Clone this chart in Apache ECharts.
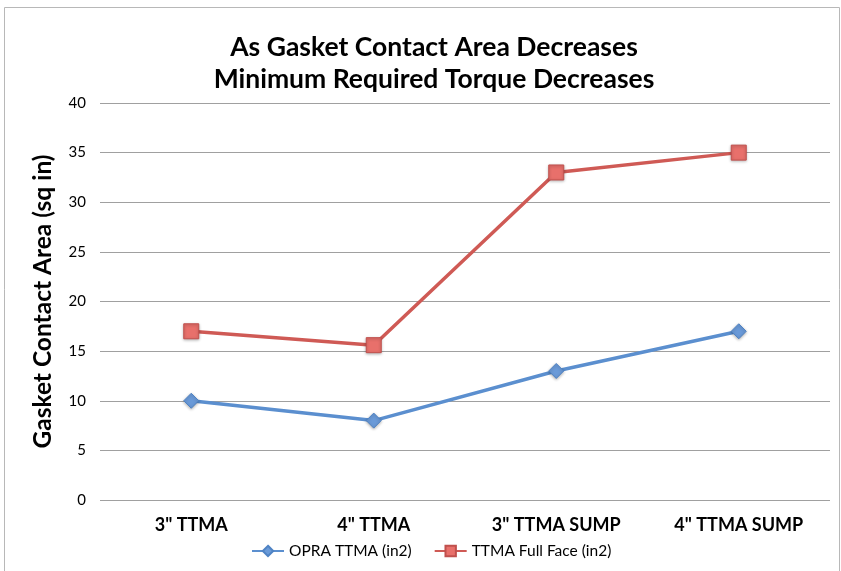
<!DOCTYPE html>
<html><head><meta charset="utf-8">
<script src="https://cdn.jsdelivr.net/npm/echarts@6/dist/echarts.min.js"></script>
<style>html,body{margin:0;padding:0;background:#fff}#c{width:841px;height:571px}</style>
</head><body><div id="c"></div>
<script>
const categories = ['3" TTMA', '4" TTMA', '3" TTMA SUMP', '4" TTMA SUMP'];
const opraValues = [10, 8, 13, 17];
const fullFaceValues = [17, 15.6, 33, 35];
const seriesNames = ['OPRA TTMA (in2)', 'TTMA Full Face (in2)'];
const FONT = 'Lato, "Open Sans", sans-serif';
const chart = echarts.init(document.getElementById('c'));
chart.setOption({
  animation: false,
  backgroundColor: '#fff',
  graphic: [{type:'rect', shape:{x:4.5,y:7.5,width:835,height:580}, style:{fill:'none', stroke:'#b8b8b8', lineWidth:1}, silent:true}],
  title: {
    text: 'As Gasket Contact Area Decreases\nMinimum Required Torque Decreases',
    left: 429, textAlign: 'center', top: 26,
    textStyle: {fontFamily: FONT, fontWeight: 'bold', fontSize: 26.5, lineHeight: 32, color: '#000'}
  },
  legend: {
    bottom: 7, left: 246, itemWidth: 32, itemHeight: 13, itemGap: 22, itemStyle: {shadowBlur: 0},
    textStyle: {fontFamily: FONT, fontSize: 15.5, color: '#000'},
    data: seriesNames
  },
  grid: {left: 100, right: 11, top: 103, bottom: 71},
  xAxis: {
    type: 'category', data: categories, boundaryGap: true,
    axisLine: {show: false}, axisTick: {show: false},
    axisLabel: {fontFamily: FONT, fontWeight: 'bold', fontSize: 18, color: '#000', margin: 16}
  },
  yAxis: {
    type: 'value', min: 0, max: 40, interval: 5,
    name: 'Gasket Contact Area (sq in)', nameLocation: 'middle', nameGap: 44,
    nameTextStyle: {fontFamily: FONT, fontWeight: 'bold', fontSize: 24.5, color: '#000'},
    axisLine: {show: false}, axisTick: {show: false},
    axisLabel: {fontFamily: FONT, fontSize: 15, color: '#000', margin: 14},
    splitLine: {lineStyle: {color: '#a0a0a0', width: 1}}
  },
  series: [
    {name: seriesNames[0], type: 'line', data: opraValues, symbol: 'diamond', symbolSize: 15,
     lineStyle: {color: '#5b8fcf', width: 3.5}, itemStyle: {color: '#6a9ad8', borderColor: '#4f83c4', borderWidth: 1, shadowColor:'rgba(0,0,0,0.3)', shadowBlur:3, shadowOffsetY:1}},
    {name: seriesNames[1], type: 'line', data: fullFaceValues, symbol: 'rect', symbolSize: 15,
     lineStyle: {color: '#cf5a55', width: 3.5}, itemStyle: {color: '#e8706b', borderColor: '#c0504d', borderWidth: 1, shadowColor:'rgba(0,0,0,0.3)', shadowBlur:3, shadowOffsetY:1}}
  ]
});
</script></body></html>
